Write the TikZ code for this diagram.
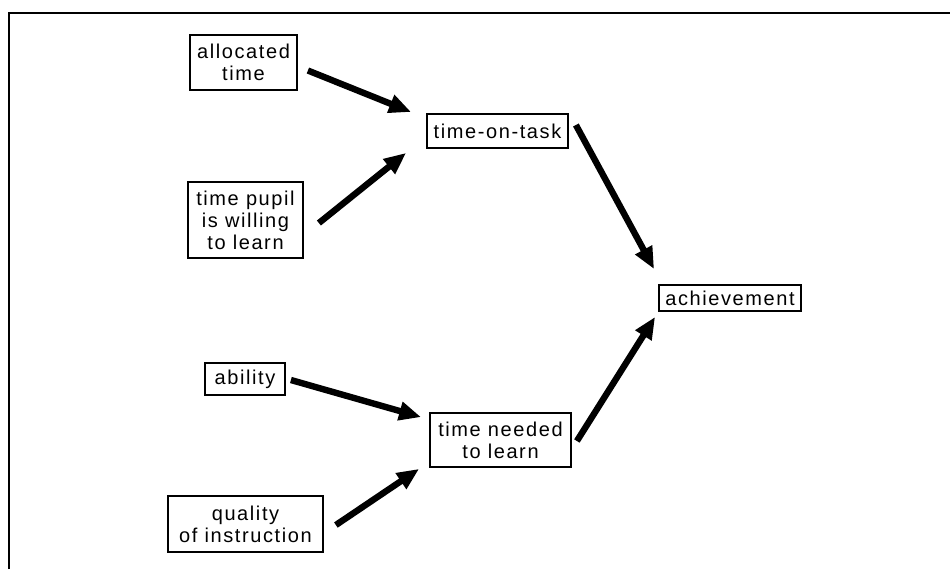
\documentclass[tikz,border=0pt]{standalone}
\usepackage{fontspec}
\setsansfont{Liberation Sans}[LetterSpace=8]
\usetikzlibrary{arrows.meta}

\begin{document}
\begin{tikzpicture}[
  x=0.5pt, y=-0.5pt,
  font=\sffamily\fontsize{10}{11}\selectfont,
  factor/.style={
    draw, line width=0.9pt,
    inner sep=1pt, align=center,
  },
  link/.style={-{Triangle[length=11pt,width=9pt]}, line width=3.2pt},
]
\useasboundingbox (0,0) rectangle (950,569);

% frame
\draw[line width=1.2pt] (9,569) -- (9,13) -- (950,13);

\node[factor, minimum width=53.5pt, minimum height=27.5pt] (alloc) at (243.5,62.5) {allocated\\time};
\node[factor, minimum width=57.5pt, minimum height=38pt] (pupil) at (245.5,220) {time pupil\\is willing\\to learn};
\node[factor, minimum width=70.5pt, minimum height=17pt] (tot) at (497.5,131) {time-on-task};
\node[factor, minimum width=71pt, minimum height=13pt] (ach) at (730,298) {achievement};
\node[factor, minimum width=40pt, minimum height=16pt] (abil) at (245,379) {ability};
\node[factor, minimum width=77.5pt, minimum height=28pt] (qual) at (245.5,524) {quality\\of instruction};
\node[factor, minimum width=70.5pt, minimum height=27pt] (need) at (500.5,440) {time needed\\to learn};

\draw[link] ([shift={(10,8)}]alloc.east) -- ([shift={(-15,-19)}]tot.west);
\draw[link] ([shift={(15,3)}]pupil.east) -- ([shift={(-20,4)}]tot.south west);
\draw[link] ([shift={(7,-6)}]tot.east) -- ([shift={(-4,-15)}]ach.north west);
\draw[link] ([shift={(5,1)}]abil.east) -- ([shift={(-8,5)}]need.north west);
\draw[link] ([shift={(12,1)}]qual.east) -- ([shift={(-10,1)}]need.south west);
\draw[link] ([shift={(5,1)}]need.east) -- ([shift={(-3,5)}]ach.south west);

\end{tikzpicture}
\end{document}
